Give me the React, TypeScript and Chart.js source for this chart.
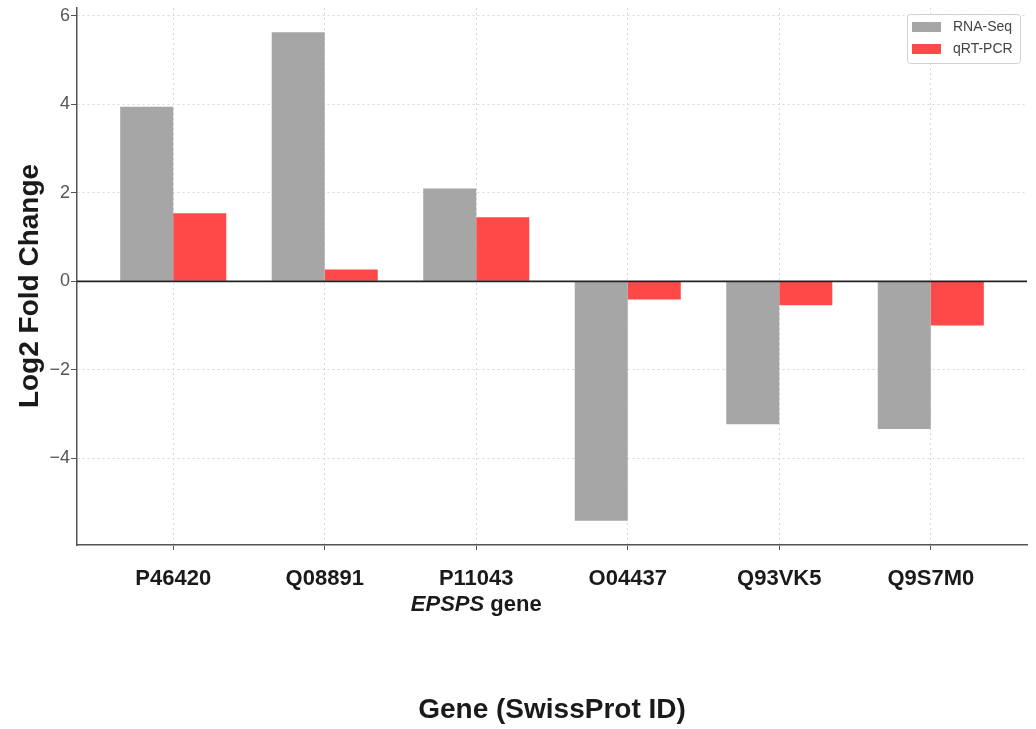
import React, { useEffect, useRef } from "react";
import { Chart, registerables } from "chart.js";

Chart.register(...registerables);

const categories = ["P46420", "Q08891", "P11043", "O04437", "Q93VK5", "Q9S7M0"];
const subLabels = ["", "", "EPSPS|gene", "", "", ""];
const rnaSeq = [3.95, 5.63, 2.1, -5.41, -3.23, -3.34];
const qrtPcr = [1.54, 0.27, 1.45, -0.41, -0.54, -1.0];
const yTicks = [-4, -2, 0, 2, 4, 6];
const seriesNames = ["RNA-Seq", "qRT-PCR"];
const seriesColors = ["#a6a6a6", "#ff4848"];
const xTitle = "Gene (SwissProt ID)";
const yTitle = "Log2 Fold Change";

const FONT = '"Liberation Sans", Arial, sans-serif';

export default function App() {
  const ref = useRef<HTMLCanvasElement | null>(null);

  useEffect(() => {
    if (!ref.current) return;

    const decor = {
      id: "decor",
      afterDatasetsDraw(chart: any) {
        const { ctx, chartArea, scales } = chart;
        const y0 = scales.y.getPixelForValue(0);
        ctx.save();
        ctx.strokeStyle = "#222";
        ctx.lineWidth = 1.6;
        ctx.beginPath();
        ctx.moveTo(chartArea.left, y0);
        ctx.lineTo(chartArea.right, y0);
        ctx.stroke();
        ctx.restore();
      },
      afterDraw(chart: any) {
        const { ctx, chartArea, scales } = chart;
        ctx.save();
        // x category labels
        ctx.fillStyle = "#1a1a1a";
        ctx.textBaseline = "middle";
        ctx.textAlign = "center";
        categories.forEach((c, i) => {
          const x = scales.x.getPixelForValue(i);
          ctx.font = `bold 22px ${FONT}`;
          ctx.fillText(c, x, chartArea.bottom + 34);
          if (subLabels[i]) {
            const [it, rest] = subLabels[i].split("|");
            ctx.font = `italic bold 22px ${FONT}`;
            const w1 = ctx.measureText(it).width;
            ctx.font = `bold 22px ${FONT}`;
            const w2 = ctx.measureText(" " + rest).width;
            const start = x - (w1 + w2) / 2;
            ctx.textAlign = "left";
            ctx.font = `italic bold 22px ${FONT}`;
            ctx.fillText(it, start, chartArea.bottom + 60);
            ctx.font = `bold 22px ${FONT}`;
            ctx.fillText(" " + rest, start + w1, chartArea.bottom + 60);
            ctx.textAlign = "center";
          }
        });
        // x title
        ctx.font = `bold 28px ${FONT}`;
        ctx.fillStyle = "#1a1a1a";
        ctx.fillText(xTitle, (chartArea.left + chartArea.right) / 2, 710);
        // y title
        ctx.save();
        ctx.translate(30, 286);
        ctx.rotate(-Math.PI / 2);
        ctx.fillText(yTitle, 0, 0);
        ctx.restore();
        // legend
        const lw = 113, lh = 49;
        const lx = chartArea.right - 7 - lw;
        const ly = chartArea.top + 6;
        ctx.fillStyle = "rgba(255,255,255,0.85)";
        ctx.strokeStyle = "#d0d0d0";
        ctx.lineWidth = 1;
        ctx.beginPath();
        (ctx as any).roundRect(lx + 0.5, ly + 0.5, lw, lh, 3);
        ctx.fill();
        ctx.stroke();
        ctx.font = `14px ${FONT}`;
        ctx.textAlign = "left";
        seriesNames.forEach((n, i) => {
          const cy = ly + 13 + i * 22;
          ctx.fillStyle = seriesColors[i];
          ctx.fillRect(lx + 5, cy - 5, 29, 10);
          ctx.fillStyle = "#444";
          ctx.fillText(n, lx + 46, cy);
        });
        ctx.restore();
      },
    };

    const chart = new Chart(ref.current, {
      type: "bar",
      data: {
        datasets: [
          {
            label: seriesNames[0],
            data: rnaSeq.map((v, i) => ({ x: i, y: v })),
            backgroundColor: seriesColors[0],
            borderWidth: 0,
          },
          {
            label: seriesNames[1],
            data: qrtPcr.map((v, i) => ({ x: i, y: v })),
            backgroundColor: seriesColors[1],
            borderWidth: 0,
          },
        ],
      },
      options: {
        responsive: false,
        animation: false,
        devicePixelRatio: 1,
        layout: { padding: { top: 8, right: 9, left: 0, bottom: 0 } },
        datasets: { bar: { categoryPercentage: 0.7, barPercentage: 1.0 } },
        plugins: { legend: { display: false }, title: { display: false }, tooltip: { enabled: false } },
        scales: {
          x: {
            type: "linear",
            min: -0.635,
            max: 5.635,
            offset: false,
            ticks: { stepSize: 1, includeBounds: false, display: false },
            grid: {
              offset: false,
              color: "#d8d8d8",
              lineWidth: 1,
              drawTicks: true,
              tickLength: 5,
              tickColor: "#555",
            },
            border: { display: true, color: "#555", width: 1.5, dash: [2, 3] },
            afterFit: (s: any) => {
              s.height = 184;
              s.paddingLeft = 0;
              s.paddingRight = 0;
            },
          },
          y: {
            min: -5.96,
            max: 6.18,
            afterBuildTicks: (s: any) => {
              s.ticks = yTicks.map((v) => ({ value: v }));
            },
            ticks: {
              includeBounds: false,
              padding: 1,
              color: "#555",
              font: { family: FONT, size: 18 },
              callback: (v: any) => (Number(v) < 0 ? "\u2212" + Math.abs(Number(v)) : String(v)),
            },
            grid: {
              color: (c: any) => (c.tick && c.tick.value === 0 ? "rgba(0,0,0,0)" : "#d8d8d8"),
              lineWidth: 1,
              drawTicks: true,
              tickLength: 6,
              tickColor: "#555",
            },
            border: { display: true, color: "#555", width: 1.5, dash: [2, 3] },
            afterFit: (s: any) => {
              s.width = 77;
              s.paddingTop = 0;
              s.paddingBottom = 0;
            },
          },
        },
      },
      plugins: [decor],
    } as any);

    return () => chart.destroy();
  }, []);

  return (
    <div style={{ position: "fixed", left: 0, top: 0, width: 1036, height: 729, background: "#fff" }}>
      <canvas ref={ref} width={1036} height={729} style={{ width: 1036, height: 729 }} />
    </div>
  );
}
